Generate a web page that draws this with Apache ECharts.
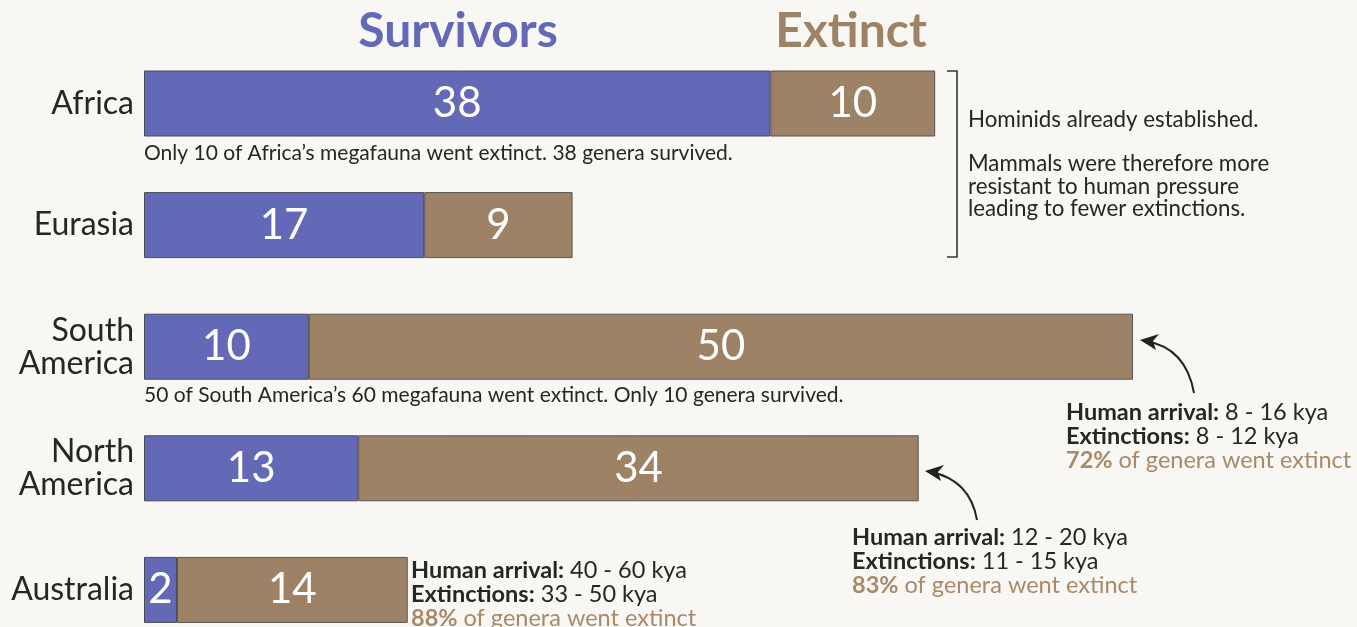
<!DOCTYPE html>
<html><head><meta charset="utf-8">
<script src="https://cdn.jsdelivr.net/npm/echarts@6/dist/echarts.min.js"></script>
<style>html,body{margin:0;padding:0;background:#f8f7f3}#c{width:1357px;height:627px}</style>
</head><body><div id="c"></div>
<script>
const categories = ['Africa', 'Eurasia', 'South\nAmerica', 'North\nAmerica', 'Australia'];
const survivors = [38, 17, 10, 13, 2];
const extinct = [10, 9, 50, 34, 14];
const seriesNames = ['Survivors', 'Extinct'];
const captions = [
  'Only 10 of Africa\u2019s megafauna went extinct. 38 genera survived.',
  '50 of South America\u2019s 60 megafauna went extinct. Only 10 genera survived.'
];
const noteLines = ['Hominids already established.', 'Mammals were therefore more', 'resistant to human pressure', 'leading to fewer extinctions.'];
const annSA = [['Human arrival:', ' 8 - 16 kya'], ['Extinctions:', ' 8 - 12 kya'], ['72%', ' of genera went extinct']];
const annNA = [['Human arrival:', ' 12 - 20 kya'], ['Extinctions:', ' 11 - 15 kya'], ['83%', ' of genera went extinct']];
const annAU = [['Human arrival:', ' 40 - 60 kya'], ['Extinctions:', ' 33 - 50 kya'], ['88%', ' of genera went extinct']];

const BLUE = '#6369b6', TAN = '#9e8265', DARK = '#262626', TANTXT = '#a88a6b';
const FONT = 'Lato, "Noto Sans", sans-serif';

function annBlock(lines, x, y0) {
  return lines.map((l, i) => ({
    type: 'text', x: x, y: y0 + i * 24,
    style: {
      text: '{b|' + l[0] + '}{r|' + l[1] + '}',
      verticalAlign: 'top',
      rich: {
        b: { fontFamily: FONT, fontSize: 23.5, fontWeight: 'bold', fill: i === 2 ? TANTXT : DARK },
        r: { fontFamily: FONT, fontSize: 23.5, fill: i === 2 ? TANTXT : DARK }
      }
    }
  }));
}
function txt(text, x, y, size, color, weight, align) {
  return { type: 'text', x: x, y: y, style: { text: text, fontFamily: FONT, fontSize: size, fontWeight: weight || 'normal', fill: color, align: align || 'left', verticalAlign: 'top' } };
}

const graphics = [
  txt(seriesNames[0], 458, 8, 48, BLUE, 'bold', 'center'),
  txt(seriesNames[1], 851, 8, 48, TAN, 'bold', 'center'),
  txt(captions[0], 144, 143, 21, DARK),
  txt(captions[1], 144, 385, 21, DARK),
  { type: 'polyline', shape: { points: [[947, 71], [957, 71], [957, 257], [947, 257]] }, style: { stroke: '#333', lineWidth: 1.6, fill: null } },
  { type: 'bezierCurve', shape: { x1: 1194, y1: 393, cpx1: 1186, cpy1: 348, x2: 1146, y2: 341 }, style: { stroke: '#222', lineWidth: 2, fill: null } },
  { type: 'polygon', shape: { points: [[1140, 340], [1159, 334], [1153, 341], [1156, 350]] }, style: { fill: '#222' } },
  { type: 'bezierCurve', shape: { x1: 977, y1: 520, cpx1: 970, cpy1: 480, x2: 931, y2: 472 }, style: { stroke: '#222', lineWidth: 2, fill: null } },
  { type: 'polygon', shape: { points: [[925, 471], [944, 465], [938, 472], [941, 481]] }, style: { fill: '#222' } }
];
const noteTops = [109, 153, 176, 198];
noteLines.forEach((l, i) => graphics.push(txt(l, 968, noteTops[i], 22.3, DARK)));
graphics.push(...annBlock(annSA, 1066, 400), ...annBlock(annNA, 852, 525), ...annBlock(annAU, 411, 558));

const chart = echarts.init(document.getElementById('c'), null, { renderer: 'canvas' });
chart.setOption({
  backgroundColor: '#f8f7f3',
  animation: false,
  grid: { left: 144, width: 989, top: 42.7, height: 608, containLabel: false, outerBoundsMode: 'none' },
  xAxis: { type: 'value', min: 0, max: 60, show: false },
  yAxis: {
    type: 'category', data: categories, inverse: true,
    axisLine: { show: false }, axisTick: { show: false },
    axisLabel: { fontFamily: FONT, fontSize: 32, color: DARK, lineHeight: 33, margin: 10, align: 'right' }
  },
  series: [
    { name: seriesNames[0], type: 'bar', stack: 'a', data: survivors, barWidth: 66,
      itemStyle: { color: BLUE, borderColor: '#4a4a55', borderWidth: 1 },
      label: { show: true, position: 'inside', color: '#fff', fontFamily: FONT, fontSize: 42 } },
    { name: seriesNames[1], type: 'bar', stack: 'a', data: extinct, barWidth: 66,
      itemStyle: { color: TAN, borderColor: '#555', borderWidth: 1 },
      label: { show: true, position: 'inside', color: '#fff', fontFamily: FONT, fontSize: 42 } }
  ],
  graphic: graphics
});
</script></body></html>
